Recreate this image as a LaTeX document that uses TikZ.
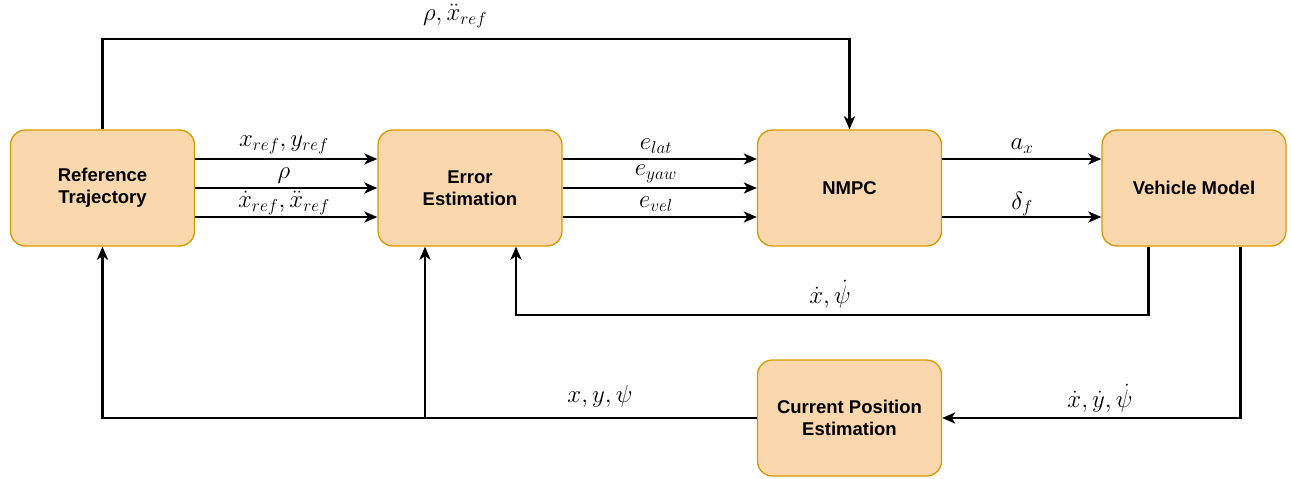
\documentclass[tikz,border=0pt]{standalone}
\usepackage{fontspec}
\newfontfamily\boxfont{Liberation Sans}
\usetikzlibrary{arrows.meta,calc}
\definecolor{boxfill}{HTML}{FAD7AC}
\definecolor{boxline}{HTML}{D79B00}
\begin{document}
\begin{tikzpicture}[x=1pt,y=-1pt,
  blk/.style={draw=boxline,fill=boxfill,line width=1.3pt,rounded corners=15pt,
    minimum width=184pt,minimum height=116pt,align=center,
    font=\boxfont\bfseries\fontsize{18.5}{22}\selectfont,inner sep=0pt},
  arr/.style={line width=2.3pt,-{Stealth[length=13pt,width=11pt,inset=3.5pt]}},
  lbl/.style={font=\fontsize{24}{28}\selectfont,inner sep=0pt}]
\useasboundingbox (0,0) rectangle (1291,479);
\node[blk] (rt) at (102.5,188) {Reference\\Trajectory};
\node[blk] (ee) at (470,188) {Error\\Estimation};
\node[blk] (nmpc) at (849.5,188) {NMPC};
\node[blk] (vm) at (1194,188) {Vehicle Model};
\node[blk] (cpe) at (849.5,418) {Current Position\\Estimation};
% RT -> EE
\draw[arr] ([yshift=29pt]rt.east) -- ([yshift=29pt]ee.west);
\draw[arr] (rt.east) -- (ee.west);
\draw[arr] ([yshift=-29pt]rt.east) -- ([yshift=-29pt]ee.west);
\node[lbl] (l1) at (284,145) {$x_{ref},y_{ref}$};
\node[lbl] (l2) at (284,176) {$\rho$};
\node[lbl] (l3) at (284,203) {$\dot{x}_{ref},\ddot{x}_{ref}$};
% EE -> NMPC
\draw[arr] ([yshift=29pt]ee.east) -- ([yshift=29pt]nmpc.west);
\draw[arr] (ee.east) -- (nmpc.west);
\draw[arr] ([yshift=-29pt]ee.east) -- ([yshift=-29pt]nmpc.west);
\node[lbl] (l4) at (656,146) {$e_{lat}$};
\node[lbl] (l5) at (656,174) {$e_{yaw}$};
\node[lbl] (l6) at (656,204) {$e_{vel}$};
% NMPC -> VM
\draw[arr] ([yshift=29pt]nmpc.east) -- ([yshift=29pt]vm.west);
\draw[arr] ([yshift=-29pt]nmpc.east) -- ([yshift=-29pt]vm.west);
\node[lbl] (l7) at (1022,146) {$a_x$};
\node[lbl] (l8) at (1022,204) {$\delta_f$};
% top line
\draw[arr] (rt.north) -- (rt.north |- 0,39) -| (nmpc.north);
\node[lbl] (l9) at (455,16) {$\rho,\ddot{x}_{ref}$};
% feedback VM -> EE
\coordinate (vmA) at ([xshift=-45.5pt]vm.south);
\coordinate (eeB) at ([xshift=46pt]ee.south);
\draw[arr] (vmA) -- (vmA |- 0,315) -| (eeB);
\node[lbl] (l10) at (830,294) {$\dot{x},\dot{\psi}$};
% VM -> CPE
\coordinate (vmB) at ([xshift=46.5pt]vm.south);
\draw[arr] (vmB) -- (vmB |- cpe.east) -- (cpe.east);
\node[lbl] (l11) at (1100,398) {$\dot{x},\dot{y},\dot{\psi}$};
% CPE -> RT, EE
\coordinate (eeA) at ([xshift=-45pt]ee.south);
\coordinate (br) at (eeA |- cpe.west);
\draw[arr] (cpe.west) -- (rt.south |- cpe.west) -- (rt.south);
\draw[arr] (br) -- (eeA);
\node[lbl] (l12) at (600,396) {$x,y,\psi$};
\end{tikzpicture}
\end{document}
